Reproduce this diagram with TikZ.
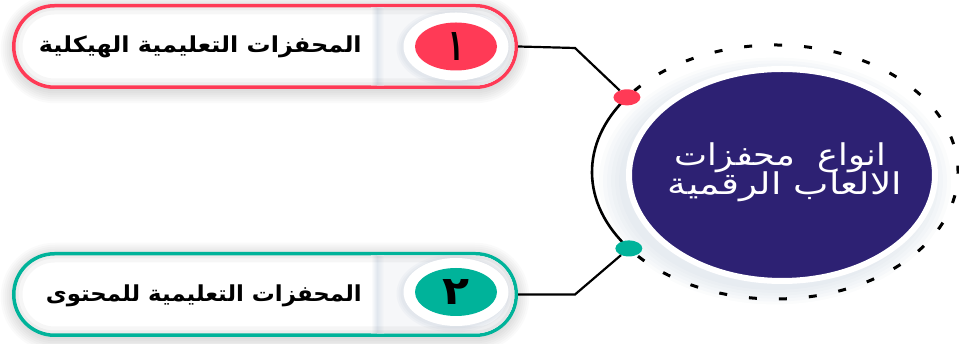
\documentclass[tikz,border=0pt]{standalone}
\usepackage{fontspec}
\usepackage{graphicx}
\TeXXeTstate=1
\newfontfamily\arabicfont[Script=Arabic]{DejaVu Sans}
\usetikzlibrary{shapes.geometric,calc}

\definecolor{hotred}{HTML}{FF3A56}
\definecolor{mint}{HTML}{00B39A}
\definecolor{deepnavy}{HTML}{2D2173}
\definecolor{capgray}{HTML}{F6F7F9}
\definecolor{divgray}{HTML}{E1E7EE}
\definecolor{haze}{HTML}{9AAEC4}

% right-to-left Arabic run
\newcommand\rtl[1]{{\arabicfont\beginR #1\endR}}

\begin{document}
\begin{tikzpicture}[x=1pt,y=1pt,
  pill/.style={rectangle, rounded corners=40.75, minimum width=502.5,
    minimum height=81.5, line width=3.5, fill=white, inner sep=0},
  halo/.style={ellipse, fill=white, minimum width=105, minimum height=68, inner sep=0},
  badge/.style={ellipse, minimum width=82, minimum height=48, inner sep=0,
    font=\arabicfont\bfseries},
  dotmark/.style={ellipse, minimum width=27, minimum height=16, inner sep=0},
  wire/.style={line width=2.2, black},
  pilltext/.style={inner sep=0, anchor=base east,
    font=\arabicfont\bfseries\fontsize{22}{26}\selectfont},
  coretext/.style={inner sep=0, anchor=base, text=white,
    font=\arabicfont\fontsize{30}{34}\selectfont},
]
\useasboundingbox (0,0) rectangle (959,344);

% soft shadows under both pills
\foreach \cy in {297.5,49.5}{
  \foreach \g in {1,3,...,13}{
    \fill[black, opacity=0.02, rounded corners=40.75+\g]
      (265-251.25-\g, \cy-40.75-\g-3) rectangle (265+251.25+\g, \cy+40.75+\g-2);
  }
}

% pills
\node[pill, draw=hotred] (p1) at (265,297.5) {};
\node[pill, draw=mint]   (p2) at (265,49.5) {};

% pill interiors: light cap on the right, soft divider, inner edge shade
\foreach \cy in {297.5,49.5}{
  \begin{scope}
    \clip[rounded corners=39] (265-249.5, \cy-39) rectangle (265+249.5, \cy+39);
    \fill[capgray] (377,\cy-45) rectangle (520,\cy+45);
    \shade[left color=white, right color=divgray] (371,\cy-45) rectangle (377,\cy+45);
    \shade[left color=divgray, right color=capgray] (377,\cy-45) rectangle (384,\cy+45);
    \draw[black, opacity=0.035, line width=14, rounded corners=39]
      (265-249.5, \cy-39) rectangle (265+249.5, \cy+39);
    \draw[black, opacity=0.035, line width=6, rounded corners=39]
      (265-249.5, \cy-39) rectangle (265+249.5, \cy+39);
  \end{scope}
}

% number badges
\foreach \cy in {297.5,52}{
  \foreach \g in {1,3,5}{
    \fill[haze, opacity=0.07] (454,\cy-1.5) ellipse [x radius=52.5+\g, y radius=34+\g];
  }
}
\node[halo] (h1) at (456,297.5) {};
\node[halo] (h2) at (456,52) {};
\node[badge, fill=hotred] (n1) at (h1) {\resizebox{15pt}{28pt}{١}};
\node[badge, fill=mint]   (n2) at (h2) {\resizebox{27pt}{25pt}{٢}};

% pill labels
\node[pilltext] (t1) at (362,291)
  {\resizebox{323pt}{\height}{\rtl{المحفزات التعليمية الهيكلية}}};
\node[pilltext] (t2) at (362,42)
  {\resizebox{316pt}{\height}{\rtl{المحفزات التعليمية للمحتوى}}};

% central ring: haze, dashed outline, solid left arc
\coordinate (ringc) at (775,172);
\foreach \r in {0,4,...,20}{
  \fill[haze, opacity=0.045] (775,163) ellipse [x radius=156+\r, y radius=109+\r*0.72];
}
\draw[line width=3, dash pattern=on 8pt off 22pt, dash phase=-12pt]
  ($(ringc)+(217:183 and 127)$) arc[start angle=217, end angle=504, x radius=183, y radius=127];
\draw[line width=2.6]
  ($(ringc)+(144:183 and 127)$) arc[start angle=144, end angle=217, x radius=183, y radius=127];

% core
\node[ellipse, fill=deepnavy, draw=white, line width=6, minimum width=306,
  minimum height=212, inner sep=0] (core) at (782,169) {};
\node[coretext] (l1) at (780,178) {\resizebox{212pt}{\height}{\rtl{انواع\ \ محفزات}}};
\node[coretext] (l2) at (785,149) {\resizebox{234pt}{\height}{\rtl{الالعاب الرقمية}}};

% markers on the ring and their connectors
\node[dotmark, fill=hotred] (d1) at ($(ringc)+(144:183 and 127)$) {};
\node[dotmark, fill=mint]   (d2) at ($(ringc)+(217:183 and 127)$) {};
\draw[wire] (p1.east) -- ++(57,-1.5) -- (d1);
\draw[wire] (p2.east) -- ++(57,0) -- (d2);
\end{tikzpicture}
\end{document}
